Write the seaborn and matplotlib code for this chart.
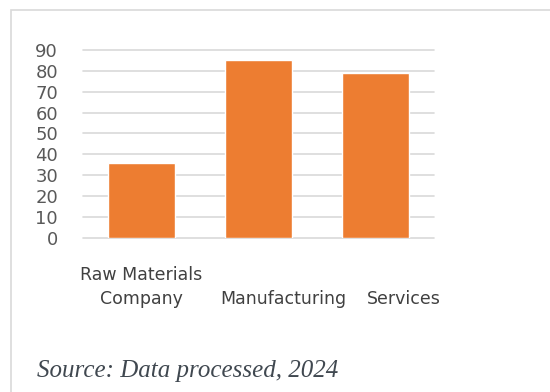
import matplotlib
matplotlib.use("Agg")
import matplotlib.pyplot as plt
import matplotlib.transforms as mtransforms
from matplotlib.patches import Rectangle
import seaborn as sns
import pandas as pd

categories = ["Raw Materials\nCompany", "Manufacturing", "Services"]
values = [36, 85, 79]
yticks = [0, 10, 20, 30, 40, 50, 60, 70, 80, 90]
source_text = "Source: Data processed, 2024"

sns.set_theme(style="white")
plt.rcParams['font.family'] = ['DejaVu Sans']

W, H = 550, 392
fig = plt.figure(figsize=(W / 100, H / 100), dpi=100)
fig.patch.set_facecolor("white")

# outer frame
fig.patches.append(Rectangle((11 / W, -0.5), 2.0, 1 - 10 / H + 0.5,
                             transform=fig.transFigure, fill=False,
                             edgecolor="#d9d9d9", linewidth=1.2))

ax = fig.add_axes([83 / W, 1 - 237.7 / H, (434 - 83) / W, (237.7 - 50) / H])
df = pd.DataFrame({"cat": categories, "val": values})
sns.barplot(data=df, x="cat", y="val", color="#ED7D31", width=0.57,
            saturation=1, ax=ax, zorder=3)
ax.set_xlim(-0.5, 2.5)
ax.set_ylim(0, 90)
ax.set_yticks(yticks)
ax.set_yticklabels([str(v) for v in yticks])
ax.set_xlabel("")
ax.set_ylabel("")
for s in ax.spines.values():
    s.set_visible(False)
ax.grid(axis="y", color="#d9d9d9", linewidth=1.2, zorder=0)
for gl in ax.get_ygridlines():
    gl.set_clip_on(False)
ax.set_axisbelow(True)
ax.tick_params(axis="y", length=0, pad=18, labelsize=13, labelcolor="#595959")
ax.tick_params(axis="x", length=0, pad=50.5, labelsize=12.5, labelcolor="#404040")

offsets = [0, 25, 28]
for lab, dx in zip(ax.get_xticklabels(), offsets):
    lab.set_verticalalignment("bottom")
    lab.set_linespacing(1.45)
    lab.set_transform(lab.get_transform() +
                      mtransforms.ScaledTranslation(dx / 100, 0, fig.dpi_scale_trans))

fig.text(37 / W, 1 - 377 / H, source_text, family="Liberation Serif",
         style="italic", fontsize=18, color="#404850", va="baseline", ha="left")

fig.savefig("out.png", dpi=100)
